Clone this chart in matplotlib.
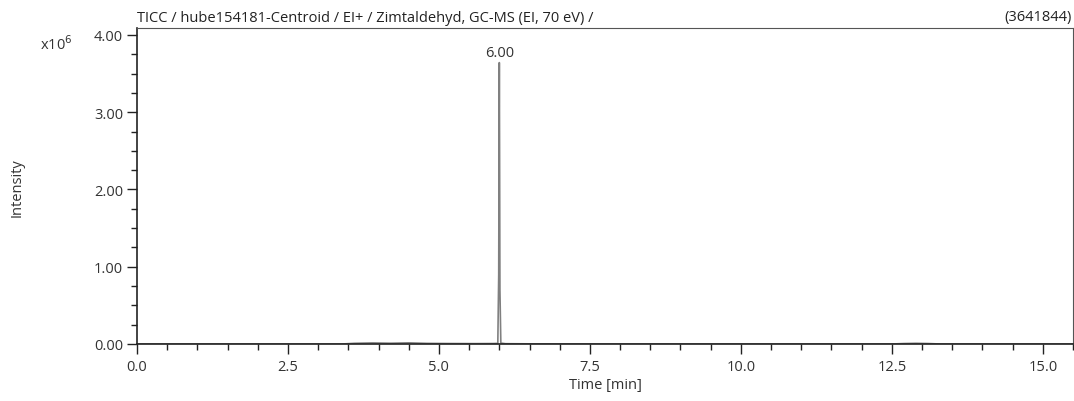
import matplotlib
matplotlib.use("Agg")
import matplotlib.pyplot as plt
from matplotlib.ticker import MultipleLocator, FuncFormatter

# Chromatogram data (time in min, intensity in counts)
time_min = [0.0, 3.40, 3.60, 3.90, 4.20, 4.50, 4.80, 5.20, 5.60, 5.90, 5.975,
            5.99, 5.995, 6.00, 6.005, 6.01, 6.025, 6.10, 6.50, 7.00, 9.00,
            12.50, 12.70, 12.90, 13.10, 13.30, 15.50]
intensity = [0, 0, 9000, 14000, 10000, 15000, 8000, 6000, 5000, 6000, 8000,
             900000, 2400000, 3641844, 2300000, 700000, 12000, 4000, 2000,
             1000, 0, 0, 6000, 9000, 6000, 0, 0]
peak_time = 6.00
peak_label = "6.00"
max_intensity = 3641844
title_left = "TICC / hube154181-Centroid / EI+ / Zimtaldehyd, GC-MS (EI, 70 eV) /"

plt.rcParams['font.family'] = ['Open Sans', 'DejaVu Sans']
txt = '#333333'
fs = 10.5

fig = plt.figure(figsize=(10.74, 4.02), dpi=100)
ax = fig.add_axes([137/1074, 1-345/402, (1073-137)/1074, (345-29)/402])

ax.plot(time_min, [v/1e6 for v in intensity], color='#808080', lw=1.2)

ax.set_xlim(0, 15.5)
ax.set_ylim(0, 4.09)
ax.xaxis.set_major_locator(MultipleLocator(2.5))
ax.xaxis.set_minor_locator(MultipleLocator(0.5))
ax.yaxis.set_major_locator(MultipleLocator(1.0))
ax.yaxis.set_minor_locator(MultipleLocator(0.25))
ax.xaxis.set_major_formatter(FuncFormatter(lambda v, p: f"{v:.1f}"))
ax.yaxis.set_major_formatter(FuncFormatter(lambda v, p: f"{v:.2f}"))
ax.tick_params(axis='both', which='major', direction='out', length=7, width=1,
               color='#222222', labelsize=fs, labelcolor=txt)
ax.tick_params(axis='both', which='minor', direction='out', length=4, width=1,
               color='#222222')
ax.tick_params(axis='x', pad=4)
ax.tick_params(axis='y', pad=3)
for s in ['left', 'bottom']:
    ax.spines[s].set_color('#222222')
    ax.spines[s].set_linewidth(1.2)
for s in ['top', 'right']:
    ax.spines[s].set_color('#555555')
    ax.spines[s].set_linewidth(0.8)

ax.set_xlabel("Time [min]", fontsize=fs, color=txt, labelpad=2)
fig.text(17/1074, 1-188/402, "Intensity", rotation=90, ha='center', va='center',
         fontsize=fs, color=txt)

ax.annotate(peak_label, xy=(peak_time, max_intensity/1e6), xytext=(0, 2),
            textcoords='offset points', ha='center', va='bottom',
            fontsize=fs, color=txt)

fig.text(137/1074, 1-18/402, title_left, ha='left', va='center', fontsize=fs, color='#222222')
fig.text(1072/1074, 1-18/402, f"({max_intensity})", ha='right', va='center', fontsize=fs, color='#222222')
fig.text(40/1074, 1-45/402, r"x10$^{6}$", ha='left', va='center', fontsize=fs, color=txt)

fig.savefig("out.png", dpi=100, facecolor='white')
